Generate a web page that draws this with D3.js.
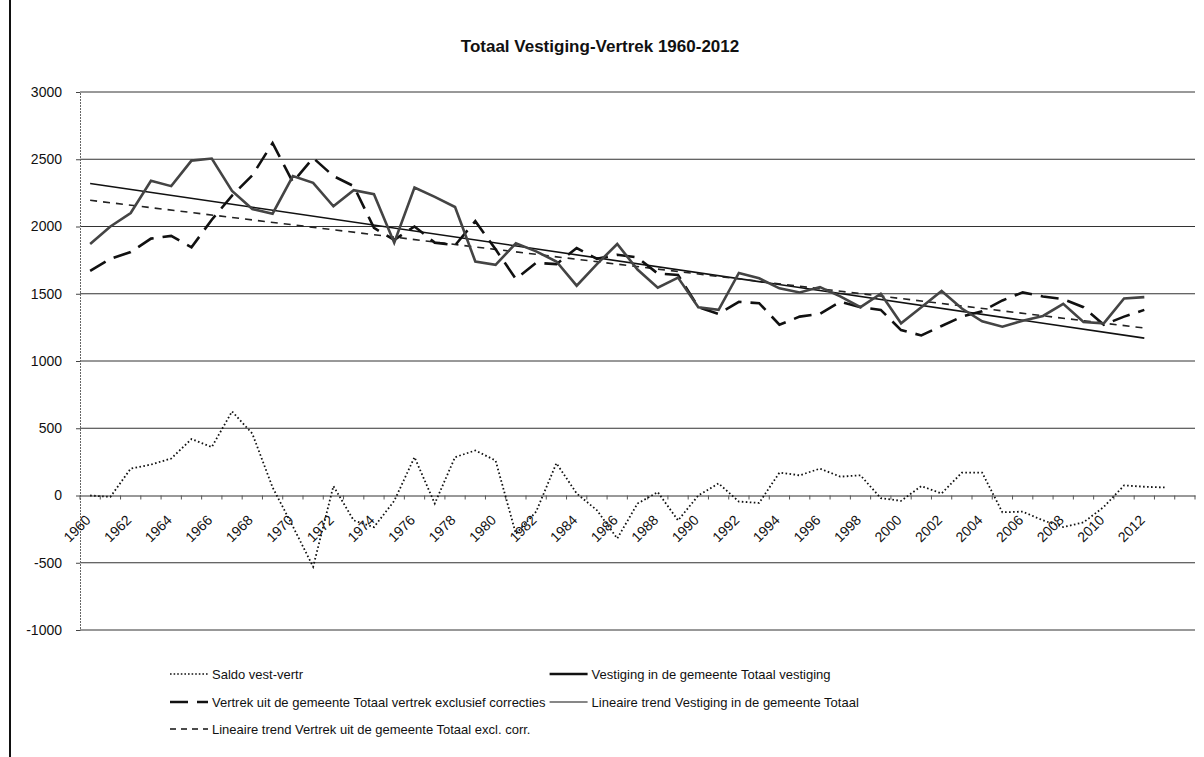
<!DOCTYPE html>
<html><head><meta charset="utf-8">
<script src="https://cdn.jsdelivr.net/npm/d3@7/dist/d3.min.js"></script>
<style>
body{margin:0;background:#fff}
svg{display:block}
text{font-family:"Liberation Sans",Arial,sans-serif;fill:#111}
</style>
</head><body>
<svg id="chart" width="1204" height="757"></svg>
<script>
// ---------- data ----------
const years = [1960,1961,1962,1963,1964,1965,1966,1967,1968,1969,1970,1971,1972,1973,1974,1975,1976,1977,1978,1979,1980,1981,1982,1983,1984,1985,1986,1987,1988,1989,1990,1991,1992,1993,1994,1995,1996,1997,1998,1999,2000,2001,2002,2003,2004,2005,2006,2007,2008,2009,2010,2011,2012,2013,2014];
const labelYears = [1960,1962,1964,1966,1968,1970,1972,1974,1976,1978,1980,1982,1984,1986,1988,1990,1992,1994,1996,1998,2000,2002,2004,2006,2008,2010,2012];
const yTicks = [3000,2500,2000,1500,1000,500,0,-500,-1000];

const saldoYears = [1960,1961,1962,1963,1964,1965,1966,1967,1968,1969,1970,1971,1972,1973,1974,1975,1976,1977,1978,1979,1980,1981,1982,1983,1984,1985,1986,1987,1988,1989,1990,1991,1992,1993,1994,1995,1996,1997,1998,1999,2000,2001,2002,2003,2004,2005,2006,2007,2008,2009,2010,2011,2012,2013];
const saldo = [0,-10,200,230,275,420,360,625,460,60,-230,-530,70,-185,-235,-40,285,-60,285,335,260,-285,-120,240,15,-110,-320,-60,25,-185,0,90,-45,-55,170,150,200,140,150,-20,-40,70,15,170,170,-125,-120,-185,-235,-200,-85,75,65,60];

const seriesYears = [1960,1961,1962,1963,1964,1965,1966,1967,1968,1969,1970,1971,1972,1973,1974,1975,1976,1977,1978,1979,1980,1981,1982,1983,1984,1985,1986,1987,1988,1989,1990,1991,1992,1993,1994,1995,1996,1997,1998,1999,2000,2001,2002,2003,2004,2005,2006,2007,2008,2009,2010,2011,2012];
const vestiging = [1870,2000,2100,2340,2300,2490,2505,2265,2130,2095,2375,2325,2150,2270,2240,1880,2290,2220,2145,1740,1715,1875,1815,1740,1560,1720,1870,1680,1545,1620,1400,1380,1655,1615,1540,1510,1550,1480,1400,1500,1280,1400,1520,1390,1295,1255,1300,1335,1425,1290,1280,1465,1475];
const vertrek = [1670,1760,1810,1910,1930,1845,2050,2230,2380,2620,2330,2510,2375,2300,1990,1900,2000,1880,1860,2040,1830,1610,1730,1720,1840,1760,1790,1770,1650,1640,1400,1350,1440,1430,1270,1330,1350,1440,1400,1380,1230,1190,1260,1330,1370,1450,1510,1480,1460,1400,1270,1330,1380];

const trendYears = [1960, 2012];
const trendVestiging = [2320, 1170];
const trendVertrek = [2195, 1245];

const legendLabels = [
  "Saldo vest-vertr",
  "Vestiging in de gemeente Totaal vestiging",
  "Vertrek uit de gemeente Totaal vertrek exclusief correcties",
  "Lineaire trend Vestiging in de gemeente Totaal",
  "Lineaire trend Vertrek uit de gemeente Totaal excl. corr."
];
const title = "Totaal Vestiging-Vertrek 1960-2012";

// ---------- layout ----------
const svg = d3.select("#chart");
const plot = {left: 80, right: 1195, top: 92, bottom: 630};

const x = d3.scaleBand().domain(years).range([plot.left, plot.right]).padding(0);
const cx = d => x(d) + x.bandwidth() / 2;
const y = d3.scaleLinear().domain([-1000, 3000]).range([plot.bottom, plot.top]);

// chart border (left edge of the scanned frame)
svg.append("line").attr("x1", 10).attr("x2", 10).attr("y1", 0).attr("y2", 757)
  .attr("stroke", "#111").attr("stroke-width", 2);

// title
svg.append("text").attr("x", 600).attr("y", 52).attr("text-anchor", "middle")
  .style("font-size", "17px").style("font-weight", "bold").text(title);

// gridlines
svg.append("g").selectAll("line").data(yTicks.filter(v => v !== 0)).join("line")
  .attr("x1", plot.left).attr("x2", plot.right)
  .attr("y1", d => y(d)).attr("y2", d => y(d))
  .attr("stroke", "#333").attr("stroke-width", 1);

// y axis
const yAxis = svg.append("g").attr("transform", `translate(${plot.left},0)`)
  .call(d3.axisLeft(y).tickValues(yTicks).tickSize(4).tickPadding(14).tickFormat(d => String(d)));
yAxis.select(".domain").attr("stroke", "#666").attr("stroke-dasharray", "2,1");
yAxis.selectAll(".tick line").attr("stroke", "#444");
yAxis.selectAll("text").style("font-size", "14px").style("font-family", "'Liberation Sans',Arial,sans-serif");

// x axis on zero line
const xAxis = svg.append("g").attr("transform", `translate(0,${y(0)})`)
  .call(d3.axisBottom(x).tickSize(0).tickFormat(d => labelYears.includes(d) ? String(d) : ""));
xAxis.select(".domain").attr("stroke", "#333");
xAxis.selectAll("text")
  .style("font-size", "14px").style("font-family", "'Liberation Sans',Arial,sans-serif")
  .attr("text-anchor", "end")
  .attr("transform", "translate(-2,22) rotate(-45)")
  .attr("dy", "0.35em").attr("y", 0).attr("x", 0);
// tick marks between categories
svg.append("g").selectAll("line").data(years.concat(["end"])).join("line")
  .attr("x1", d => d === "end" ? plot.right : x(d))
  .attr("x2", d => d === "end" ? plot.right : x(d))
  .attr("y1", y(0)).attr("y2", y(0) + 4)
  .attr("stroke", "#555").attr("stroke-width", 1);

// lines
const lineGen = (ys) => d3.line().x((d, i) => cx(ys[i])).y(d => y(d));

svg.append("path").datum(trendVestiging).attr("d", lineGen(trendYears))
  .attr("fill", "none").attr("stroke", "#111").attr("stroke-width", 1.6);
svg.append("path").datum(trendVertrek).attr("d", lineGen(trendYears))
  .attr("fill", "none").attr("stroke", "#222").attr("stroke-width", 1.6)
  .attr("stroke-dasharray", "7,6");
svg.append("path").datum(vertrek).attr("d", lineGen(seriesYears))
  .attr("fill", "none").attr("stroke", "#111").attr("stroke-width", 2.6)
  .attr("stroke-dasharray", "18,9");
svg.append("path").datum(vestiging).attr("d", lineGen(seriesYears))
  .attr("fill", "none").attr("stroke", "#444").attr("stroke-width", 2.6)
  .attr("stroke-linejoin", "miter");
svg.append("path").datum(saldo).attr("d", lineGen(saldoYears))
  .attr("fill", "none").attr("stroke", "#111").attr("stroke-width", 1.8)
  .attr("stroke-dasharray", "1.6,2.4");

// legend: two columns, second column starts after the widest first-column entry
const legend = svg.append("g").style("font-size", "13px");
const col1 = 170, sampleW = 38, gap = 4;
const rowsY = [674, 702, 729];
const styles = [
  {dash: "1.6,2", w: 1.6},
  {dash: null, w: 2.6},
  {dash: "18,9", w: 2.6},
  {dash: null, w: 1.2},
  {dash: "6,5", w: 1.5}
];
function addItem(i, xPos, yPos) {
  const l = legend.append("line").attr("x1", xPos).attr("x2", xPos + sampleW)
    .attr("y1", yPos).attr("y2", yPos).attr("stroke", "#111").attr("stroke-width", styles[i].w);
  if (styles[i].dash) l.attr("stroke-dasharray", styles[i].dash);
  return legend.append("text").attr("x", xPos + sampleW + gap).attr("y", yPos + 4.5).text(legendLabels[i]);
}
const t0 = addItem(0, col1, rowsY[0]);
const t2 = addItem(2, col1, rowsY[1]);
const t4 = addItem(4, col1, rowsY[2]);
const widest = Math.max(t0.node().getComputedTextLength(), t2.node().getComputedTextLength(), t4.node().getComputedTextLength());
const col2 = col1 + sampleW + gap + widest + 4;
addItem(1, col2, rowsY[0]);
addItem(3, col2, rowsY[1]);
</script>
</body></html>
